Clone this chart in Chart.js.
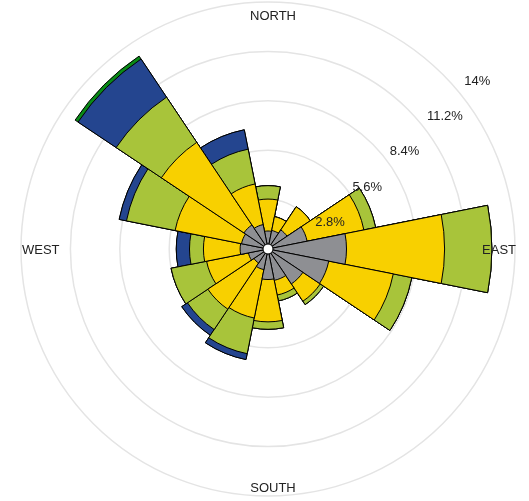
<!DOCTYPE html>
<html>
<head>
<meta charset="utf-8">
<script src="https://cdn.jsdelivr.net/npm/chart.js@4.4.1/dist/chart.umd.min.js"></script>
<style>
  html, body { margin: 0; padding: 0; background: #fff; }
  #wrap { width: 529px; height: 501px; }
</style>
</head>
<body>
<div id="wrap"><canvas id="rose"></canvas></div>
<script>
const directions = ["N", "NNE", "NE", "ENE", "E", "ESE", "SE", "SSE",
                    "S", "SSW", "SW", "WSW", "W", "WNW", "NW", "NNW"];

// frequency (%) of each speed class, one value per direction
const speedClass1 = [1.02, 1.07, 1.30, 2.26, 4.45, 3.51, 2.38, 1.81, 1.73, 1.19, 0.96, 1.13, 1.58, 1.53, 1.64, 1.41];
const speedClass2 = [1.81, 0.80, 1.58, 3.28, 5.56, 3.73, 1.18, 0.85, 2.40, 2.80, 3.14, 2.42, 2.08, 3.84, 5.63, 2.35];
const speedClass3 = [0.76, 0.00, 0.00, 0.68, 2.68, 1.07, 0.23, 0.34, 0.42, 2.06, 1.39, 2.05, 0.79, 2.81, 3.08, 2.01];
const speedClass4 = [0.00, 0.00, 0.00, 0.00, 0.00, 0.00, 0.00, 0.00, 0.00, 0.34, 0.39, 0.00, 0.75, 0.42, 2.60, 1.12];
const speedClass5 = [0.00, 0.00, 0.00, 0.00, 0.00, 0.00, 0.00, 0.00, 0.00, 0.00, 0.00, 0.00, 0.00, 0.00, 0.20, 0.00];

const classColors = ["#8e8f93", "#f8d000", "#a8c43a", "#24458f", "#0a8a16"];

const tickValues = [2.8, 5.6, 8.4, 11.2, 14];
const tickLabels = ["2.8%", "5.6%", "8.4%", "11.2%", "14%"];

// polar area can't stack, so every class is drawn as a running total;
// dataset 0 is painted last, so the inner classes end up on top
const classes = [speedClass1, speedClass2, speedClass3, speedClass4, speedClass5];
let running = directions.map(() => 0);
const datasets = classes.map((cls, k) => {
    running = running.map((v, i) => v + cls[i]);
    return {
        data: running.slice(),
        backgroundColor: classColors[k],
        borderColor: "#000",
        borderWidth: 1
    };
});

const roseLabels = {
    id: "roseLabels",
    afterDatasetsDraw(chart) {
        const r = chart.scales.r;
        const ctx = chart.ctx;
        const cx = r.xCenter;
        const cy = r.yCenter;
        const R = r.drawingArea;

        ctx.save();

        // calm hole in the middle
        ctx.beginPath();
        ctx.arc(cx, cy, 5, 0, Math.PI * 2);
        ctx.fillStyle = "#fff";
        ctx.fill();
        ctx.lineWidth = 1;
        ctx.strokeStyle = "#000";
        ctx.stroke();

        ctx.font = '13px "Liberation Sans", Arial, sans-serif';
        ctx.fillStyle = "#222";
        ctx.textBaseline = "middle";

        // ring labels run out to the upper right
        ctx.textAlign = "left";
        tickValues.forEach((v, i) => {
            const d = r.getDistanceFromCenterForValue(v);
            ctx.fillText(tickLabels[i], cx + d * 0.754 + 10, cy - d * 0.713 + 8.5);
        });

        ctx.textAlign = "center";
        ctx.fillText("NORTH", cx + 5, cy - R + 14);
        ctx.fillText("SOUTH", cx + 5, cy + R - 8);
        ctx.textAlign = "left";
        ctx.fillText("WEST", cx - R + 1, cy + 1.5);
        ctx.textAlign = "right";
        ctx.fillText("EAST", cx + R + 1, cy + 1.5);

        ctx.restore();
    }
};

new Chart(document.getElementById("rose"), {
    type: "polarArea",
    data: {
        labels: directions,
        datasets
    },
    options: {
        responsive: true,
        maintainAspectRatio: false,
        animation: false,
        layout: {
            padding: { left: 7, top: 2, bottom: 4, right: 0 }
        },
        plugins: {
            legend: { display: false },
            tooltip: { enabled: false }
        },
        scales: {
            r: {
                min: 0,
                max: 14,
                startAngle: -11.25,
                afterBuildTicks(scale) {
                    scale.ticks = [0, ...tickValues].map(v => ({ value: v }));
                },
                ticks: { display: false },
                grid: {
                    circular: true,
                    color: "#e4e4e4",
                    lineWidth: 1.5
                },
                angleLines: { display: false },
                pointLabels: { display: false }
            }
        }
    },
    plugins: [roseLabels]
});
</script>
</body>
</html>
